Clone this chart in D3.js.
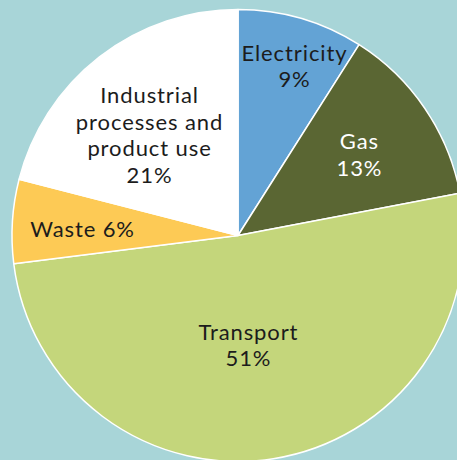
<!DOCTYPE html>
<html>
<head>
<meta charset="utf-8">
<script src="https://cdn.jsdelivr.net/npm/d3@7"></script>
<style>
  html, body { margin: 0; padding: 0; background: #a8d5d8; }
  svg { display: block; }
</style>
</head>
<body>
<div id="chart"></div>
<script>
// Data
const sectors = ["Electricity", "Gas", "Transport", "Waste", "Industrial processes and product use"];
const shares = [9, 13, 51, 6, 21];
const labelLines = [
  ["Electricity", "9%"],
  ["Gas", "13%"],
  ["Transport", "51%"],
  ["Waste 6%"],
  ["Industrial", "processes and", "product use", "21%"]
];

// Styling / layout
const colors = ["#63a3d5", "#5a6633", "#c4d67b", "#fdca55", "#ffffff"];
const textColors = ["#1c1c1c", "#ffffff", "#1c1c1c", "#1c1c1c", "#1c1c1c"];
// label placement: angle (degrees, clockwise from 12 o'clock) and radius
const labelPos = [
  { a: 18.3, r: 178.5 },
  { a: 56.2, r: 145.6 },
  { a: 174.8, r: 110 },
  { a: 272.2, r: 156 },
  { a: 318.5, r: 134.2 }
];

const width = 457, height = 460;
const cx = 238, cy = 235.5, radius = 226;
const lineHeight = 26.5, fontSize = 22;

const svg = d3.select("#chart")
  .append("svg")
  .attr("width", width)
  .attr("height", height);

const g = svg.append("g")
  .attr("transform", `translate(${cx},${cy})`);

const data = sectors.map((s, i) => ({ name: s, value: shares[i], i: i }));

const pie = d3.pie()
  .value(d => d.value)
  .sort(null);

const arc = d3.arc()
  .innerRadius(0)
  .outerRadius(radius);

g.selectAll("path.slice")
  .data(pie(data))
  .enter().append("path")
  .attr("class", "slice")
  .attr("d", arc)
  .attr("fill", d => colors[d.data.i])
  .attr("stroke", "white")
  .attr("stroke-width", 1.5)
  .attr("stroke-linejoin", "round");

// Labels
data.forEach((d, i) => {
  const p = d3.pointRadial(labelPos[i].a * Math.PI / 180, labelPos[i].r);
  const lines = labelLines[i];
  const firstBase = p[1] - (lines.length - 1) * lineHeight / 2 + fontSize * 0.36;
  const t = g.append("text")
    .attr("text-anchor", "middle")
    .style("font-family", "Lato, 'Open Sans', sans-serif")
    .style("font-size", fontSize + "px")
    .style("letter-spacing", "0.9px")
    .style("fill", textColors[i]);
  lines.forEach((line, k) => {
    t.append("tspan")
      .attr("x", p[0] + 0.45)
      .attr("y", firstBase + k * lineHeight)
      .text(line);
  });
});
</script>
</body>
</html>
